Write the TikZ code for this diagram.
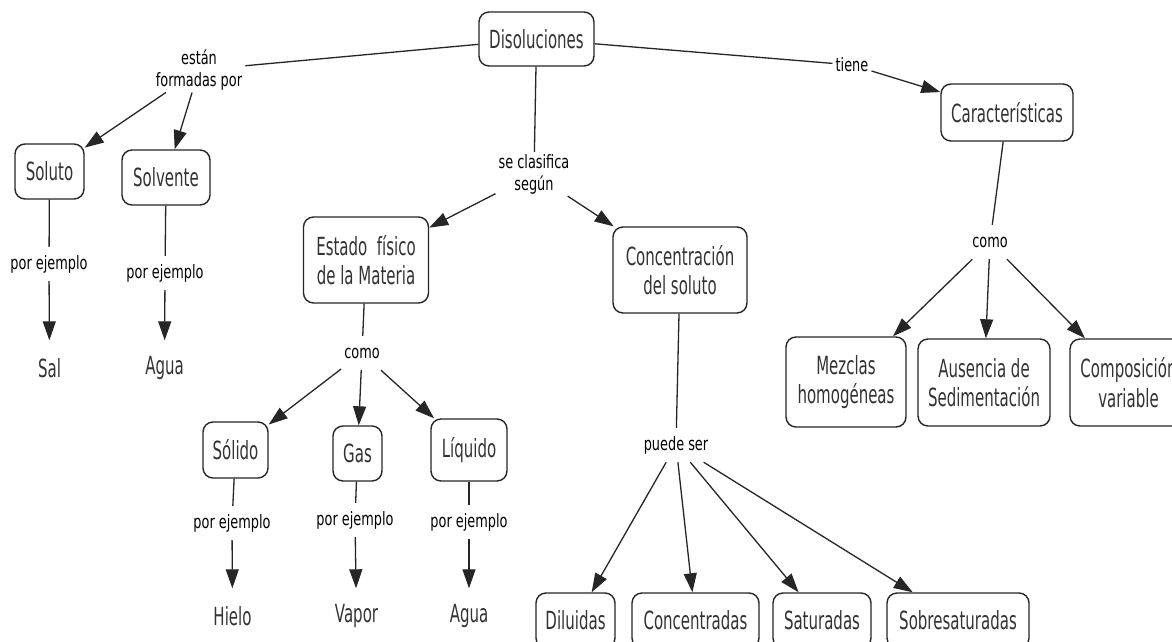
\documentclass[tikz,border=0pt]{standalone}
\usepackage{fontspec}
\usetikzlibrary{arrows.meta}
\newfontfamily\conceptfont{DejaVu Sans}[FakeStretch=0.60]
\newfontfamily\linkfont{DejaVu Sans}[FakeStretch=0.70]
\tikzset{
  concept/.style={draw=black!85, line width=1.4pt, rounded corners=10pt, fill=white,
    align=center, inner sep=2pt, text=black!80,
    font={\conceptfont\fontsize{25}{29.5}\selectfont}},
  plainconcept/.style={align=center, inner sep=2pt, minimum height=55pt, text=black!80,
    font={\conceptfont\fontsize{25}{29.5}\selectfont}},
  linklabel/.style={align=center, inner xsep=3pt, inner ysep=2pt, minimum height=34pt,
    text=black, font={\linkfont\fontsize{18.4}{22}\selectfont}},
  link/.style={line width=1.3pt, draw=black!85},
  arr/.style={link, -{Triangle[length=19pt,width=13pt]}},
}
\begin{document}
\begin{tikzpicture}[x=1pt,y=-1pt]
\useasboundingbox (0,0) rectangle (1172,642);
\fill[white] (0,0) rectangle (1172,642);
\clip (0,0) rectangle (1172,642);

% top
\node[concept, minimum width=115pt, minimum height=54pt] (dis) at (536.5,39) {Disoluciones};
\node[linklabel] (l1) at (199,70) {están\\formadas por};
\node[linklabel] (l2) at (534,174) {se clasifica\\según};
\node[linklabel] (tiene) at (852,65) {tiene};

% left branch
\node[concept, minimum width=69pt, minimum height=55pt] (soluto) at (49.5,171.5) {Soluto};
\node[concept, minimum width=88pt, minimum height=55pt] (solvente) at (166,177.5) {Solvente};
\node[linklabel] (pe1) at (49,264) {por ejemplo};
\node[linklabel] (pe2) at (165,273) {por ejemplo};
\node[plainconcept] (sal) at (49.5,368) {Sal};
\node[plainconcept] (agua1) at (164.5,368) {Agua};

% estado branch
\node[concept, minimum width=125pt, minimum height=86pt] (estado) at (366,260) {Estado\ \ físico\\de la Materia};
\node[linklabel] (como1) at (362,353) {como};
\node[concept, minimum width=65pt, minimum height=56pt] (solido) at (235.5,450) {Sólido};
\node[concept, minimum width=49pt, minimum height=55pt] (gas) at (357.5,453.5) {Gas};
\node[concept, minimum width=76pt, minimum height=62pt] (liquido) at (469,450) {Líquido};
\node[linklabel] (pe3) at (232,523) {por ejemplo};
\node[linklabel] (pe4) at (355,520) {por ejemplo};
\node[linklabel] (pe5) at (469,522) {por ejemplo};
\node[plainconcept] (hielo) at (232.5,616) {Hielo};
\node[plainconcept] (vapor) at (356.5,616) {Vapor};
\node[plainconcept] (agua2) at (469,616) {Agua};

% concentracion branch
\node[concept, minimum width=134pt, minimum height=86pt] (conc) at (680,270) {Concentración\\del soluto};
\node[linklabel] (puede) at (676,445) {puede ser};
\node[concept, minimum width=79pt, minimum height=55pt] (dil) at (575.5,620.5) {Diluidas};
\node[concept, minimum width=127pt, minimum height=55pt] (concn) at (695.5,620.5) {Concentradas};
\node[concept, minimum width=98pt, minimum height=55pt] (sat) at (822,620.5) {Saturadas};
\node[concept, minimum width=142pt, minimum height=55pt] (sob) at (958,620.5) {Sobresaturadas};

% caracteristicas branch
\node[concept, minimum width=132pt, minimum height=57pt] (car) at (1007,112.5) {Características};
\node[linklabel] (como2) at (990,242) {como};
\node[concept, minimum width=120pt, minimum height=90pt] (mez) at (846,382) {Mezclas\\homogéneas};
\node[concept, minimum width=132pt, minimum height=87pt] (aus) at (984,382.5) {Ausencia de\\Sedimentación};
\node[concept, minimum width=117pt, minimum height=87pt] (comp) at (1128.5,382.5) {Composición\\variable};

% connectors
\draw[link] (dis) -- (l1);
\draw[arr] (l1) -- (soluto);
\draw[arr] (l1) -- (solvente);
\draw[link] (soluto) -- (pe1);
\draw[arr] (pe1) -- (sal);
\draw[link] (solvente) -- (pe2);
\draw[arr] (pe2) -- (agua1);

\draw[link] (dis) -- (l2);
\draw[arr] (l2) -- (estado);
\draw[arr] (l2) -- (conc);
\draw[link] (estado) -- (como1);
\draw[arr] (como1) -- (solido);
\draw[arr] (como1) -- (gas);
\draw[arr] (como1) -- (liquido);
\draw[link] (solido) -- (pe3);
\draw[arr] (pe3) -- (hielo);
\draw[link] (gas) -- (pe4);
\draw[arr] (pe4) -- (vapor);
\draw[link] (liquido) -- (pe5);
\draw[arr] (pe5) -- (agua2);

\draw[link] (conc) -- (puede);
\draw[arr] (puede) -- (dil);
\draw[arr] (puede) -- (concn);
\draw[arr] (puede) -- (sat);
\draw[arr] (puede) -- (sob);

\draw[link] (dis) -- (tiene);
\draw[arr] (tiene) -- (car);
\draw[link] (car) -- (como2);
\draw[arr] (como2) -- (mez);
\draw[arr] (como2) -- (aus);
\draw[arr] (como2) -- (comp);
\end{tikzpicture}
\end{document}
